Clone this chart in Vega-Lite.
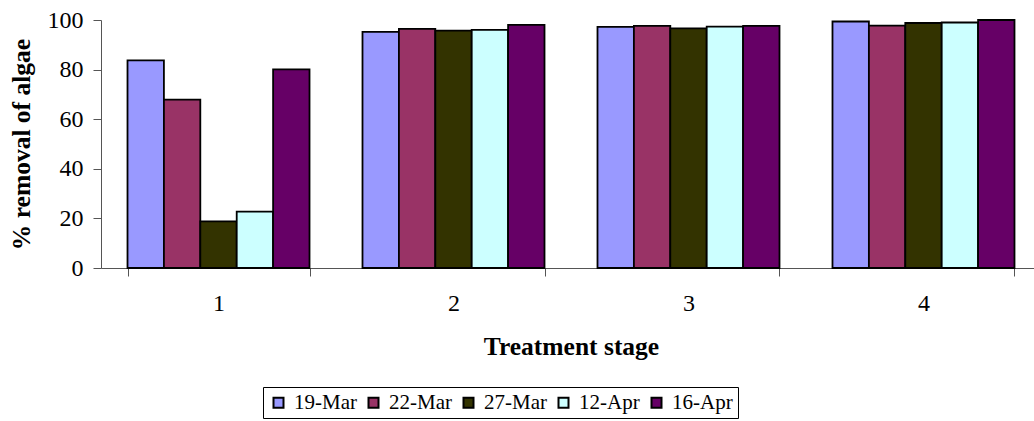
{
  "$schema": "https://vega.github.io/schema/vega-lite/v6.json",
  "autosize": {"type": "none"},
  "width": 933,
  "height": 248,
  "padding": {"left": 101, "top": 20, "right": 0, "bottom": 153},
  "background": "white",
  "config": {
    "view": {"stroke": null},
    "font": "Liberation Serif"
  },
  "data": {
    "values": [
      {"stage": "1", "date": "19-Mar", "removal": 83.7},
      {"stage": "1", "date": "22-Mar", "removal": 67.9},
      {"stage": "1", "date": "27-Mar", "removal": 18.8},
      {"stage": "1", "date": "12-Apr", "removal": 22.7},
      {"stage": "1", "date": "16-Apr", "removal": 80.1},
      {"stage": "2", "date": "19-Mar", "removal": 95.2},
      {"stage": "2", "date": "22-Mar", "removal": 96.4},
      {"stage": "2", "date": "27-Mar", "removal": 95.7},
      {"stage": "2", "date": "12-Apr", "removal": 96.0},
      {"stage": "2", "date": "16-Apr", "removal": 98.0},
      {"stage": "3", "date": "19-Mar", "removal": 97.2},
      {"stage": "3", "date": "22-Mar", "removal": 97.6},
      {"stage": "3", "date": "27-Mar", "removal": 96.6},
      {"stage": "3", "date": "12-Apr", "removal": 97.3},
      {"stage": "3", "date": "16-Apr", "removal": 97.6},
      {"stage": "4", "date": "19-Mar", "removal": 99.4},
      {"stage": "4", "date": "22-Mar", "removal": 97.7},
      {"stage": "4", "date": "27-Mar", "removal": 98.8},
      {"stage": "4", "date": "12-Apr", "removal": 99.0},
      {"stage": "4", "date": "16-Apr", "removal": 100.0}
    ]
  },
  "mark": {"type": "bar", "stroke": "black", "strokeWidth": 1.8},
  "encoding": {
    "x": {
      "field": "stage",
      "type": "nominal",
      "sort": ["1", "2", "3", "4"],
      "scale": {"range": [0, 940], "paddingInner": 0.2255, "paddingOuter": 0.1128},
      "axis": {
        "title": "Treatment stage",
        "titleFont": "Liberation Serif",
        "titleFontSize": 25.5,
        "titleFontWeight": "bold",
        "titleColor": "black",
        "titlePadding": 19,
        "labelAngle": 0,
        "labelFont": "Liberation Serif",
        "labelFontSize": 24,
        "labelColor": "black",
        "labelPadding": 15,
        "tickBand": "extent",
        "tickSize": 8,
        "tickColor": "#555555",
        "domainColor": "#555555",
        "grid": false
      }
    },
    "xOffset": {
      "field": "date",
      "type": "nominal",
      "sort": ["19-Mar", "22-Mar", "27-Mar", "12-Apr", "16-Apr"],
      "scale": {"paddingInner": 0, "paddingOuter": 0}
    },
    "y": {
      "field": "removal",
      "type": "quantitative",
      "scale": {"domain": [0, 100], "nice": false},
      "axis": {
        "title": "% removal of algae",
        "titleFont": "Liberation Serif",
        "titleFontSize": 25.5,
        "titleFontWeight": "bold",
        "titleColor": "black",
        "titlePadding": 13,
        "values": [0, 20, 40, 60, 80, 100],
        "labelFont": "Liberation Serif",
        "labelFontSize": 24,
        "labelColor": "black",
        "labelPadding": 10,
        "tickSize": 8,
        "tickColor": "#555555",
        "domainColor": "#555555",
        "grid": false
      }
    },
    "color": {
      "field": "date",
      "type": "nominal",
      "sort": ["19-Mar", "22-Mar", "27-Mar", "12-Apr", "16-Apr"],
      "scale": {
        "domain": ["19-Mar", "22-Mar", "27-Mar", "12-Apr", "16-Apr"],
        "range": ["#9999FF", "#993366", "#333300", "#CCFFFF", "#660066"]
      },
      "legend": {
        "title": null,
        "orient": "none",
        "legendX": 162,
        "legendY": 367,
        "direction": "horizontal",
        "strokeColor": "black",
        "padding": 5,
        "symbolType": "square",
        "symbolSize": 100,
        "symbolStrokeColor": "black",
        "symbolStrokeWidth": 2,
        "symbolOpacity": 1,
        "labelFont": "Liberation Serif",
        "labelFontSize": 21,
        "labelColor": "black",
        "labelOffset": 5,
        "columnPadding": 6
      }
    }
  }
}
